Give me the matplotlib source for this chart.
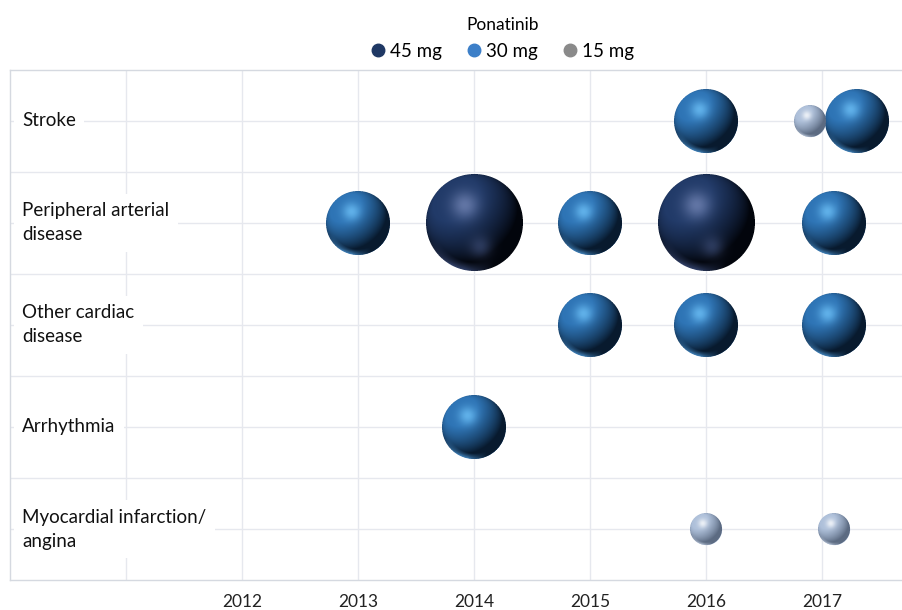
import numpy as np
import matplotlib
matplotlib.use("Agg")
import matplotlib.pyplot as plt
from matplotlib.lines import Line2D
from matplotlib.offsetbox import OffsetImage, AnnotationBbox

plt.rcParams['font.family'] = ['Lato', 'DejaVu Sans']

# ---------------- data ----------------
categories = ["Stroke", "Peripheral arterial\ndisease", "Other cardiac\ndisease",
              "Arrhythmia", "Myocardial infarction/\nangina"]
year_ticks = [2011, 2012, 2013, 2014, 2015, 2016, 2017]
year_labels = ["", "2012", "2013", "2014", "2015", "2016", "2017"]

series_names = ["45 mg", "30 mg", "15 mg"]
series_dose = [45, 30, 15]

s45_year = [2014.0, 2016.0]
s45_row = [1, 1]

s30_year = [2016.0, 2017.3, 2013.0, 2015.0, 2017.1, 2015.0, 2016.0, 2017.1, 2014.0]
s30_row = [0, 0, 1, 1, 1, 2, 2, 2, 3]

s15_year = [2016.9, 2016.0, 2017.1]
s15_row = [0, 4, 4]

# ---------------- style ----------------
def hexrgb(h):
    h = h.lstrip('#')
    return np.array([int(h[i:i + 2], 16) / 255 for i in (0, 2, 4)])

styles = {
    "45 mg": dict(dark='#02050C', base='#213A68', hi='#7688B8', refl='#3E5080', glow2='#4A5C8C', legend='#1F3864'),
    "30 mg": dict(dark='#081A2E', base='#2E74B5', hi='#70C4FA', refl='#4F9BDC', glow2=None, legend='#3C7FC8'),
    "15 mg": dict(dark='#5C6B82', base='#AEC0DA', hi='#FFFFFF', refl='#C8D4E6', glow2=None, legend='#8A8A8A'),
}
PX_PER_MG = 2.15


def sphere_img(d, st, ss=4):
    n = int(round(d)) * ss
    c = (np.arange(n) + 0.5) / n * 2 - 1
    u, v = np.meshgrid(c, -c)
    r = np.sqrt(u * u + v * v)
    z = np.sqrt(np.clip(1 - r * r, 0, 1))
    L = np.array([-0.45, 0.55, 0.70])
    L = L / np.linalg.norm(L)
    diff = np.clip(u * L[0] + v * L[1] + z * L[2], 0, 1)
    s = np.clip(diff / 0.85, 0, 1) ** 1.0
    dark, base, hi, refl = (hexrgb(st[k]) for k in ('dark', 'base', 'hi', 'refl'))
    col = dark + (base - dark) * s[..., None]
    g = np.exp(-((u + 0.2) ** 2 + (v - 0.36) ** 2) / (2 * 0.2 ** 2))
    col = col + (hi - col) * (g[..., None] * 0.75)
    if st['glow2'] is not None:
        g2 = np.exp(-((u - 0.12) ** 2 + (v + 0.5) ** 2) / (2 * 0.16 ** 2))
        col = col + (hexrgb(st['glow2']) - col) * (g2[..., None] * 0.5)
    rim = np.clip((r - 0.82) / 0.18, 0, 1) * np.clip((-v - 0.35) / 0.5, 0, 1) * np.clip((0.4 - u) / 0.6, 0, 1)
    col = col + (refl - col) * (rim[..., None] * 0.8)
    a = (r <= 1).astype(float)
    rgba = np.dstack([col * a[..., None], a])
    m = n // ss
    rgba = rgba.reshape(m, ss, m, ss, 4).mean(axis=(1, 3))
    out = rgba.copy()
    nz = out[..., 3] > 0
    out[nz, :3] = out[nz, :3] / out[nz, 3:4]
    return np.clip(out, 0, 1)


# ---------------- figure ----------------
W, H = 902, 610
fig = plt.figure(figsize=(W / 100, H / 100), dpi=100)
ax = fig.add_axes([10 / W, 30 / H, 892 / W, 510 / H])
ax.set_xlim(2010, 2010 + 892 / 116)
ax.set_ylim(0, 5)

grid_c = '#E6E8EE'
ax.set_xticks(year_ticks)
ax.set_xticklabels(year_labels, fontsize=12.5, color='#222222')
ax.set_yticks(np.arange(0.5, 5.0, 0.5))
ax.set_yticklabels([])
ax.tick_params(length=0, axis='x', pad=10)
ax.tick_params(length=0, axis='y')
ax.grid(True, color=grid_c, lw=1.0, zorder=0)
ax.set_axisbelow(True)
for side in ('left', 'bottom', 'top'):
    ax.spines[side].set_color('#D5D9E0')
    ax.spines[side].set_linewidth(1.0)
ax.spines['right'].set_visible(False)

for i, lab in enumerate(categories):
    ax.text(12 / 892, 4.5 - i, lab, transform=ax.get_yaxis_transform(),
            ha='left', va='center', fontsize=13.5, color='#111111', linespacing=1.5,
            bbox=dict(boxstyle='square,pad=0.45', facecolor='white', edgecolor='none'),
            zorder=2)

series = [(s45_year, s45_row), (s30_year, s30_row), (s15_year, s15_row)]
for name, dose, (yrs, rows) in zip(series_names, series_dose, series):
    st = styles[name]
    d = PX_PER_MG * dose
    ys = [4.5 - r for r in rows]
    ax.scatter(yrs, ys, s=(d * 0.72 * 0.97) ** 2, color=st['base'], linewidths=0, zorder=3)
    img = sphere_img(d, st)
    for x, y in zip(yrs, ys):
        ab = AnnotationBbox(OffsetImage(img, zoom=1, dpi_cor=False), (x, y),
                            frameon=False, pad=0, box_alignment=(0.5, 0.5), zorder=4)
        ax.add_artist(ab)

handles = [Line2D([], [], ls='none', marker='o', markersize=9,
                  markerfacecolor=styles[n]['legend'], markeredgecolor=styles[n]['legend'])
           for n in series_names]
leg = fig.legend(handles, series_names, title="Ponatinib", loc='upper center',
                 bbox_to_anchor=(0.557, 0.99), ncol=3, frameon=False,
                 fontsize=13.5, title_fontsize=12.5, handlelength=0.8,
                 handletextpad=0.25, columnspacing=1.3, borderaxespad=0.2)

fig.savefig("out.png", dpi=100, facecolor='white')
